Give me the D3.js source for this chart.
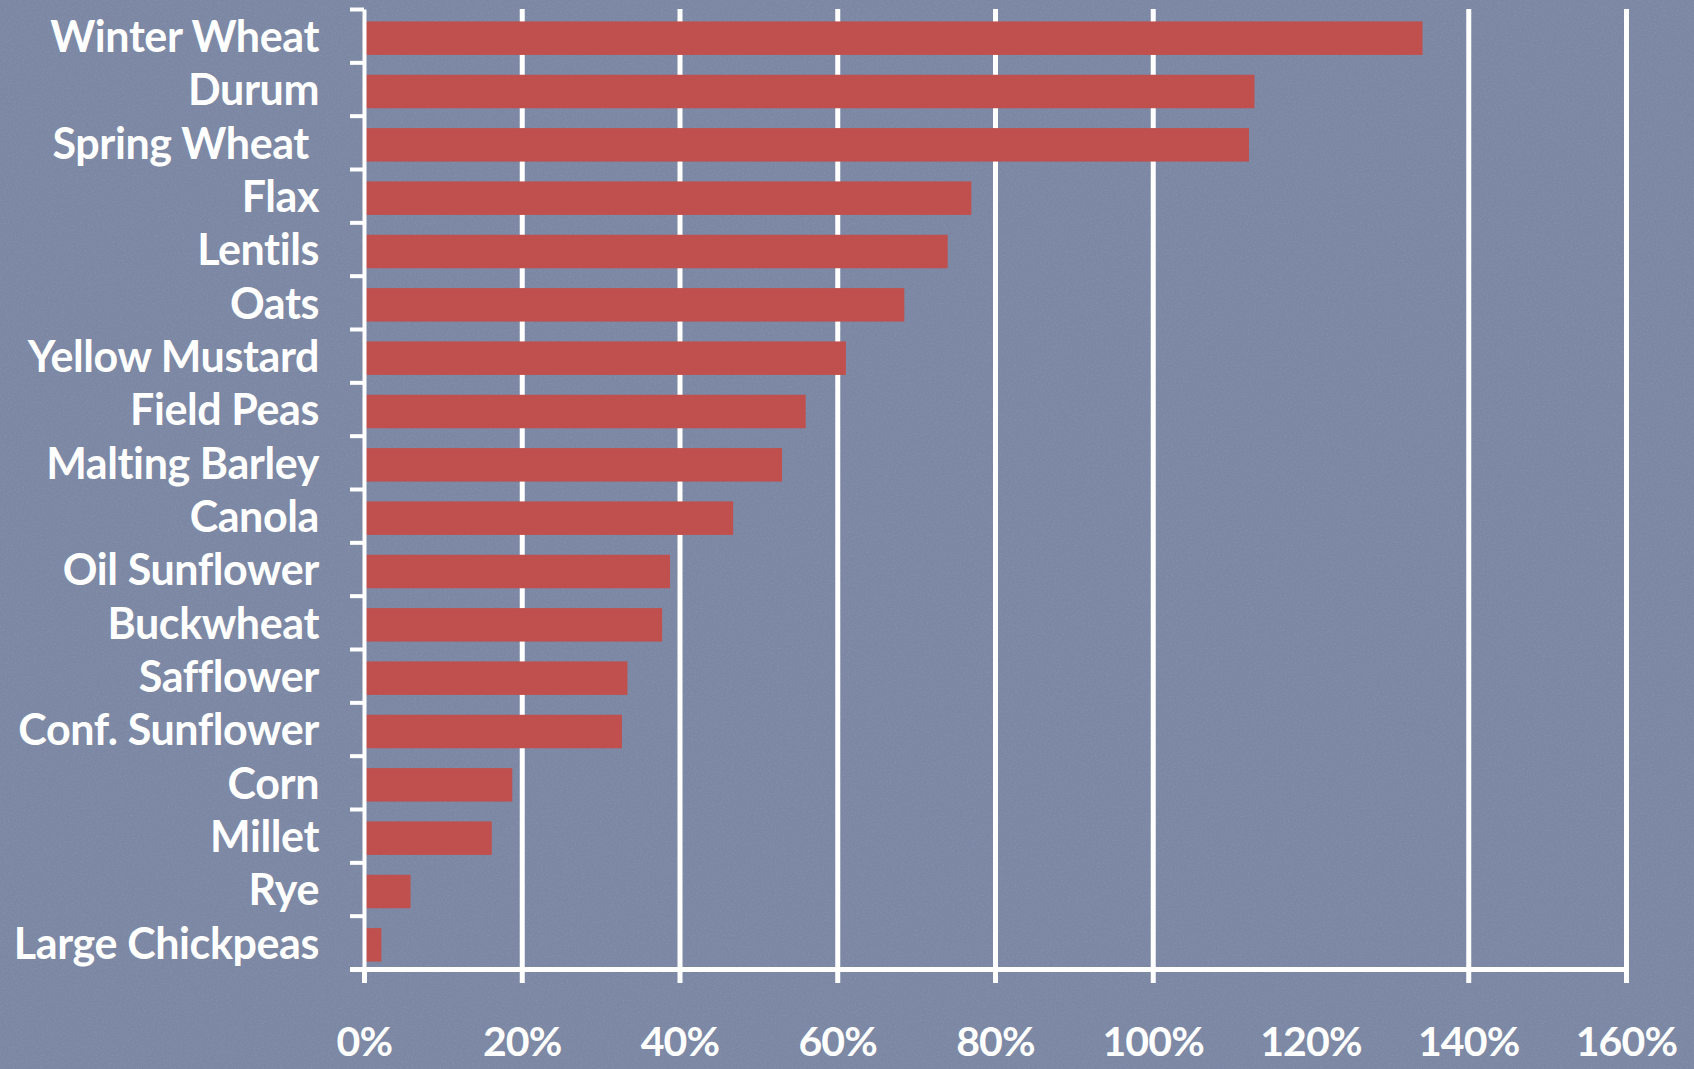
<!DOCTYPE html>
<html>
<head>
<meta charset="utf-8">
<script src="https://cdn.jsdelivr.net/npm/d3@7"></script>
<style>
  html, body { margin: 0; padding: 0; background: #7b87a3; }
  svg { display: block; }
  text { font-family: Lato, 'Open Sans', sans-serif; font-weight: 700; white-space: pre; }
</style>
</head>
<body>
<svg id="root" width="1694" height="1069"></svg>
<script>
var d3 = window.d3

const width = 1694
const height = 1069

// crops, top to bottom, and their share in percent
const crops = [
  'Winter Wheat', 'Durum', 'Spring Wheat ', 'Flax', 'Lentils', 'Oats',
  'Yellow Mustard', 'Field Peas', 'Malting Barley', 'Canola', 'Oil Sunflower',
  'Buckwheat', 'Safflower', 'Conf. Sunflower', 'Corn', 'Millet', 'Rye',
  'Large Chickpeas'
]
const shares = [
  134.2, 112.9, 112.2, 77.0, 74.0, 68.5,
  61.1, 56.0, 53.0, 46.8, 38.8,
  37.8, 33.4, 32.7, 18.8, 16.2, 5.9,
  2.2
]

// x axis ticks (the 120% grid line / tick mark is missing in the original)
const xTicks = [0, 20, 40, 60, 80, 100, 120, 140, 160]
const xTickLabels = ['0%', '20%', '40%', '60%', '80%', '100%', '120%', '140%', '160%']
const xMarkTicks = [0, 20, 40, 60, 80, 100, 140, 160]

const plotLeft = 364
const plotRight = 1626
const plotTop = 9
const plotBottom = 969

const svg = d3.select('#root')

// paper texture
const defs = svg.append('defs')
const noise = defs.append('filter').attr('id', 'paper')
  .attr('x', 0).attr('y', 0).attr('width', '100%').attr('height', '100%')
noise.append('feTurbulence')
  .attr('type', 'fractalNoise')
  .attr('baseFrequency', 0.6)
  .attr('numOctaves', 3)
  .attr('seed', 3)
noise.append('feColorMatrix')
  .attr('type', 'matrix')
  .attr('values', '0 0 0 0 0.3  0 0 0 0 0.35  0 0 0 0 0.5  0 0 0 -1.6 0.95')

svg.append('rect')
  .attr('width', width)
  .attr('height', height)
  .attr('fill', '#7b87a3')
svg.append('rect')
  .attr('width', width)
  .attr('height', height)
  .attr('filter', 'url(#paper)')
  .attr('opacity', 0.4)

// scales
const xScale = d3.scaleLinear()
  .domain([0, 160])
  .range([plotLeft, plotRight])

const yScale = d3.scaleBand()
  .domain(crops)
  .range([plotTop, plotBottom])
  .padding(0)

// row edges, used for the little ticks on the left
const yEdge = d3.scaleLinear()
  .domain([0, crops.length])
  .range([plotTop, plotBottom])

// grid lines (behind bars)
svg.append('g')
  .attr('class', 'grid')
  .attr('transform', `translate(0, ${plotBottom})`)
  .call(d3.axisBottom(xScale).tickValues(xMarkTicks.slice(1)).tickSize(-(plotBottom - plotTop)).tickFormat(''))
  .call(g => g.select('.domain').remove())
  .selectAll('line')
  .attr('stroke', '#fff')
  .attr('stroke-width', 5)

// bars
const barH = 33.5
svg.selectAll('rect.bar')
  .data(shares)
  .enter()
  .append('rect')
  .attr('class', 'bar')
  .attr('x', xScale(0))
  .attr('y', (d, i) => yScale(crops[i]) + (yScale.bandwidth() - barH) / 2 + 2.5)
  .attr('width', d => xScale(d) - xScale(0))
  .attr('height', barH)
  .attr('fill', '#c0504d')

// y axis line + edge ticks
svg.append('g')
  .attr('class', 'y axis')
  .attr('transform', `translate(${plotLeft}, 0)`)
  .call(d3.axisLeft(yEdge).tickValues(d3.range(crops.length + 1)).tickSize(14).tickSizeOuter(0).tickFormat(''))
  .call(g => g.select('.domain').attr('stroke', '#fff').attr('stroke-width', 4))
  .selectAll('line')
  .attr('stroke', '#fff')
  .attr('stroke-width', 4)

// y labels
svg.append('g')
  .attr('class', 'y labels')
  .attr('transform', `translate(${plotLeft}, 0)`)
  .call(d3.axisLeft(yScale).tickSize(0).tickPadding(45))
  .call(g => g.select('.domain').remove())
  .selectAll('text')
  .attr('fill', '#fff')
  .attr('font-size', 43)
  .attr('letter-spacing', -0.4)
  .attr('font-family', 'Lato, sans-serif')
  .attr('font-weight', 700)
  .attr('dy', '0.38em')

// x axis line + tick marks
svg.append('g')
  .attr('class', 'x axis')
  .attr('transform', `translate(0, ${plotBottom})`)
  .call(d3.axisBottom(xScale).tickValues(xMarkTicks).tickSize(14).tickSizeOuter(0).tickFormat(''))
  .call(g => g.select('.domain').attr('stroke', '#fff').attr('stroke-width', 5)
    .attr('d', `M${plotLeft - 14},0.5H${plotRight}`))
  .selectAll('line')
  .attr('stroke', '#fff')
  .attr('stroke-width', 5)

// x labels
svg.append('g')
  .attr('class', 'x labels')
  .attr('transform', `translate(0, ${plotBottom})`)
  .call(d3.axisBottom(xScale).tickValues(xTicks).tickSize(0).tickPadding(58)
    .tickFormat((d, i) => xTickLabels[i]))
  .call(g => g.select('.domain').remove())
  .selectAll('text')
  .attr('fill', '#fff')
  .attr('font-size', 41)
  .attr('letter-spacing', -0.8)
  .attr('font-family', 'Lato, sans-serif')
  .attr('font-weight', 700)
</script>
</body>
</html>
